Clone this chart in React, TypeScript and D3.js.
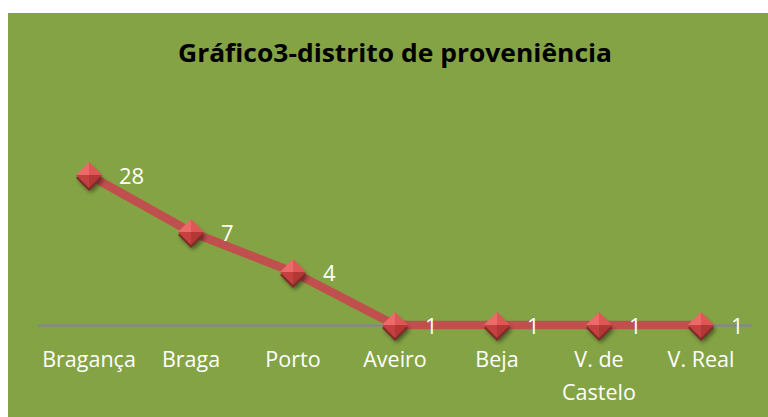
import React from "react";
import * as d3 from "d3";

const categories = [["Bragança"], ["Braga"], ["Porto"], ["Aveiro"], ["Beja"], ["V. de", "Castelo"], ["V. Real"]];
const values = [28, 7, 4, 1, 1, 1, 1];
const title = "Gráfico3-distrito de proveniência";
// Value axis as drawn in the source (non-uniform): value stops and their relative height
const yStops = [1, 4, 7, 28];
const yStopFrac = [0, 0.353, 0.62, 1];

const W = 768;
const H = 417;

export default function App() {
  const bg = { x: 8, y: 13, w: 760, h: 404 };
  const plot = { left: 38, right: 752, top: 175, bottom: 325 };
  const x = d3
    .scaleBand<number>()
    .domain(d3.range(categories.length))
    .range([plot.left, plot.right]);
  const frac = d3.scaleLinear().domain(yStops).range(yStopFrac);
  const y = (v: number) => plot.bottom - frac(v) * (plot.bottom - plot.top);
  const cx = (i: number) => (x(i) as number) + x.bandwidth() / 2;
  const line = d3
    .line<number>()
    .x((_, i) => cx(i))
    .y((d) => y(d));
  const s = 13;
  const font = "'Open Sans', 'DejaVu Sans', sans-serif";
  return (
    <svg
      width={W}
      height={H}
      style={{ position: "absolute", left: 0, top: 0 }}
    >
      <defs>
        <filter id="shadow" x="-50%" y="-50%" width="200%" height="200%">
          <feGaussianBlur stdDeviation="2" />
        </filter>
      </defs>
      <rect x={bg.x} y={bg.y} width={bg.w} height={bg.h} fill="#84A344" />
      <text
        x={395}
        y={62}
        textAnchor="middle"
        fontFamily={font}
        fontWeight="bold"
        fontSize={25}
        fill="#000"
        textLength={434}
        lengthAdjust="spacingAndGlyphs"
      >
        {title}
      </text>
      <line
        x1={plot.left}
        x2={plot.right}
        y1={plot.bottom + 0.5}
        y2={plot.bottom + 0.5}
        stroke="#86829C"
        strokeWidth={2}
      />
      <path
        d={line(values) as string}
        fill="none"
        stroke="#C0504D"
        strokeWidth={8.5}
        strokeLinejoin="round"
      />
      {values.map((v, i) => {
        const X = cx(i);
        const Y = y(v);
        const T = `${X},${Y - s}`;
        const R = `${X + s},${Y}`;
        const B = `${X},${Y + s}`;
        const L = `${X - s},${Y}`;
        const C = `${X},${Y}`;
        return (
          <g key={i}>
            <polygon
              points={`${X + 2},${Y - s + 5} ${X + s + 2},${Y + 5} ${X + 2},${Y + s + 5} ${X - s + 2},${Y + 5}`}
              fill="#000"
              opacity={0.45}
              filter="url(#shadow)"
            />
            <polygon
              points={`${X},${Y - s + 3} ${X + s},${Y + 3} ${X},${Y + s + 3} ${X - s},${Y + 3}`}
              fill="#7E2B2A"
            />
            <polygon points={`${T} ${L} ${C}`} fill="#EC6A69" />
            <polygon points={`${T} ${R} ${C}`} fill="#DE5756" />
            <polygon points={`${L} ${B} ${C}`} fill="#C5413F" />
            <polygon points={`${R} ${B} ${C}`} fill="#B23735" />
          </g>
        );
      })}
      {values.map((v, i) => (
        <text
          key={"l" + i}
          x={cx(i) + 30}
          y={y(v) + 9}
          fontFamily={font}
          fontSize={22}
          fill="#fff"
        >
          {v}
        </text>
      ))}
      {categories.map((lines, i) => (
        <text
          key={"c" + i}
          x={cx(i)}
          y={367}
          textAnchor="middle"
          fontFamily={font}
          fontSize={21.5}
          fill="#fff"
        >
          {lines.map((t, j) => (
            <tspan key={j} x={cx(i)} dy={j === 0 ? 0 : 33}>
              {t}
            </tspan>
          ))}
        </text>
      ))}
    </svg>
  );
}
